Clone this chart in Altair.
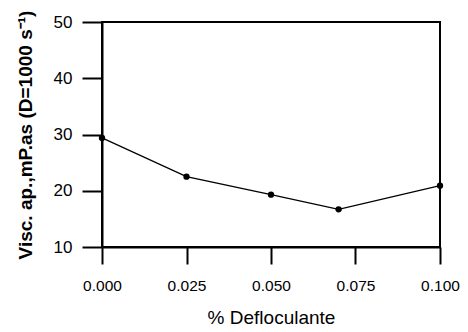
import altair as alt
import pandas as pd

deflocculant = [0.0, 0.025, 0.05, 0.07, 0.1]
viscosity = [29.4, 22.5, 19.3, 16.7, 20.9]

df = pd.DataFrame({"x": deflocculant, "y": viscosity})

FONT = "Liberation Sans"

x = alt.X("x:Q", scale=alt.Scale(domain=[0, 0.1], nice=False, zero=False),
          axis=alt.Axis(title="% Defloculante", values=[0, 0.025, 0.05, 0.075, 0.1],
                        format=".3f", tickSize=17, labelPadding=14, titlePadding=15,
                        labelFlush=False, labelFontSize=15.5,
                        titleFontWeight="normal", titleFontSize=19))
y = alt.Y("y:Q", scale=alt.Scale(domain=[10, 50], nice=False, zero=False),
          axis=alt.Axis(title="Visc. ap.,mP.as (D=1000 s⁻¹)", values=[10, 20, 30, 40, 50],
                        tickSize=20, labelPadding=10, titlePadding=18, labelFlush=False,
                        titleFontWeight="bold", titleFontSize=19))

line = alt.Chart(df).mark_line(color="black", strokeWidth=1.3).encode(x=x, y=y)
pts = alt.Chart(df).mark_circle(color="black", size=40, opacity=1).encode(x=x, y=y)

chart = (line + pts).properties(
    width=338, height=225,
    autosize=alt.AutoSizeParams(type="none"),
    padding={"left": 94, "top": 14, "right": 20, "bottom": 86},
).configure_view(stroke="black", strokeWidth=2).configure_axis(
    grid=False, domainColor="black", domainWidth=2, tickColor="black", tickWidth=2,
    labelColor="black", labelFontSize=17, labelFont=FONT, titleFont=FONT, titleColor="black",
)

chart.save("out.html", embed_options={"renderer": "svg", "actions": False})
